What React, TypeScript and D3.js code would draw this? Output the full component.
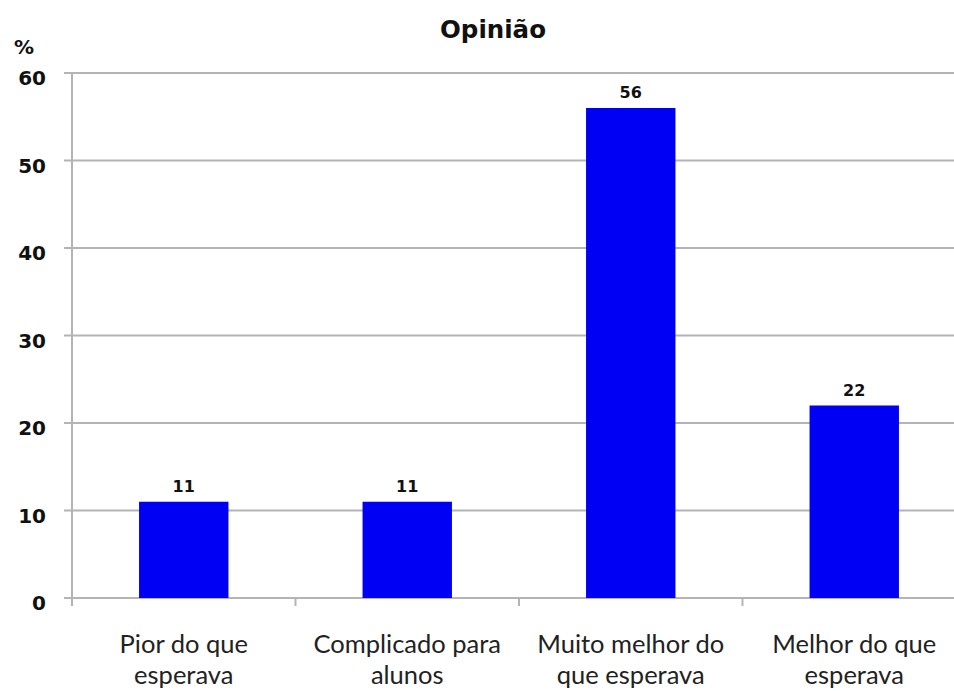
import React, { useEffect, useRef } from 'react';
import * as d3 from 'd3';

const categories = [
  ['Pior do que', 'esperava'],
  ['Complicado para', 'alunos'],
  ['Muito melhor do', 'que esperava'],
  ['Melhor do que', 'esperava'],
];
const values = [11, 11, 56, 22];
const yTicks = [0, 10, 20, 30, 40, 50, 60];

const W = 954;
const H = 691;
const LABEL_FONT = 'Lato, "Open Sans", sans-serif';
const BOLD_FONT = '"DejaVu Sans", Verdana, sans-serif';

const App = () => {
  const ref = useRef<SVGSVGElement | null>(null);

  useEffect(() => {
    if (!ref.current) return;
    const svg = d3.select(ref.current);
    svg.selectAll('*').remove();

    const left = 72, top = 73, bottom = 598, right = 966;
    const keys = categories.map((c) => c.join(' '));

    const x = d3.scaleBand<string>()
      .domain(keys)
      .range([left, right])
      .paddingInner(0.6)
      .paddingOuter(0.3);

    const y = d3.scaleLinear().domain([0, 60]).range([bottom, top]);

    // gridlines + y ticks
    svg.append('g')
      .selectAll('line')
      .data(yTicks)
      .join('line')
      .attr('x1', left - 8)
      .attr('x2', W)
      .attr('y1', (d) => y(d))
      .attr('y2', (d) => y(d))
      .attr('stroke', '#b4b4b4')
      .attr('stroke-width', 2);

    // y axis line
    svg.append('line')
      .attr('x1', left).attr('x2', left)
      .attr('y1', top).attr('y2', bottom + 1)
      .attr('stroke', '#b4b4b4')
      .attr('stroke-width', 2);

    // x ticks at category boundaries
    const step = x.step();
    const bounds = d3.range(keys.length + 1).map((i) => left + i * step).filter((v) => v <= W);
    svg.append('g')
      .selectAll('line')
      .data(bounds)
      .join('line')
      .attr('x1', (d) => d).attr('x2', (d) => d)
      .attr('y1', bottom).attr('y2', bottom + 8)
      .attr('stroke', '#b4b4b4')
      .attr('stroke-width', 2);

    // y labels
    svg.append('g')
      .selectAll('text')
      .data(yTicks)
      .join('text')
      .attr('x', 46)
      .attr('y', (d) => y(d) + 12)
      .attr('text-anchor', 'end')
      .style('font-family', BOLD_FONT)
      .style('font-weight', 'bold')
      .style('font-size', '20px')
      .style('fill', '#111')
      .text((d) => d);

    // bars
    svg.append('g')
      .selectAll('rect')
      .data(values)
      .join('rect')
      .attr('x', (_, i) => x(keys[i])!)
      .attr('y', (d) => y(d))
      .attr('width', x.bandwidth())
      .attr('height', (d) => y(0) - y(d))
      .attr('fill', '#0000f5');

    // value labels
    svg.append('g')
      .selectAll('text')
      .data(values)
      .join('text')
      .attr('x', (_, i) => x(keys[i])! + x.bandwidth() / 2)
      .attr('y', (d) => y(d) - 10)
      .attr('text-anchor', 'middle')
      .style('font-family', BOLD_FONT)
      .style('font-weight', 'bold')
      .style('font-size', '16px')
      .style('fill', '#111')
      .text((d) => d);

    // category labels
    const cat = svg.append('g')
      .selectAll('text')
      .data(categories)
      .join('text')
      .attr('text-anchor', 'middle')
      .style('font-family', LABEL_FONT)
      .style('font-size', '25.5px')
      .style('fill', '#222');
    cat.each(function (d, i) {
      const cx = x(keys[i])! + x.bandwidth() / 2;
      d3.select(this)
        .selectAll('tspan')
        .data(d)
        .join('tspan')
        .attr('x', cx)
        .attr('y', (_, j) => 653 + j * 31)
        .text((t) => t);
    });

    // title
    svg.append('text')
      .attr('x', 493)
      .attr('y', 38)
      .attr('text-anchor', 'middle')
      .style('font-family', BOLD_FONT)
      .style('font-weight', 'bold')
      .style('font-size', '24.5px')
      .style('fill', '#111')
      .text('Opinião');

    // unit
    svg.append('text')
      .attr('x', 24)
      .attr('y', 54)
      .attr('text-anchor', 'middle')
      .style('font-family', BOLD_FONT)
      .style('font-weight', 'bold')
      .style('font-size', '20px')
      .style('fill', '#111')
      .text('%');
  }, []);

  return (
    <svg
      ref={ref}
      width={W}
      height={H}
      style={{ position: 'absolute', left: 0, top: 0, background: '#fff' }}
    />
  );
};

export default App;
